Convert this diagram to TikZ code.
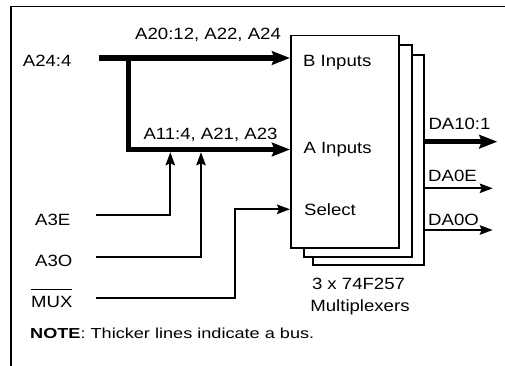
\documentclass[tikz,border=0pt]{standalone}
\usepackage{fontspec}
\setmainfont[FakeStretch=1.14]{Liberation Sans}
\newfontfamily\notefont[FakeStretch=1.25]{Liberation Sans}
\usetikzlibrary{arrows.meta}
\begin{document}
\begin{tikzpicture}[x=1pt,y=-1pt,
  lbl/.style={anchor=base west,inner sep=0pt,font=\fontsize{16.3}{19}\selectfont},
  clbl/.style={anchor=base,inner sep=0pt,font=\fontsize{16.3}{19}\selectfont},
  sig/.style={line width=1.8pt,line join=miter},
  sigarrow/.style={sig,-{Stealth[length=13pt,width=9.5pt,inset=2pt]}},
  bus/.style={line width=5.5pt,line join=miter},
  busarrow/.style={bus,-{Stealth[length=18pt,width=13.5pt,inset=2.5pt]}},
  chip/.style={draw,line width=1.8pt,fill=white,anchor=north west,inner sep=0pt}]
\useasboundingbox (0,0) rectangle (505,366);
% frame
\coordinate (fbl) at (11,366);
\coordinate (ftl) at (11,6.7);
\coordinate (ftr) at (505,6.7);
\draw[line width=1.6pt] (fbl) -- (ftl) -- (ftr);
% chips
\node[chip,minimum width=111pt,minimum height=210pt] (chip3) at (311.7,54.3) {};
\node[chip,minimum width=108.3pt,minimum height=211.7pt] (chip2) at (302.7,44.3) {};
\node[chip,minimum width=107.7pt,minimum height=212pt] (chip1) at (290,34.7) {};
% labels
\node[lbl] (la24) at (22.7,66.3) {A24:4};
\node[lbl] (lb) at (135,39.3) {A20:12, A22, A24};
\node[lbl] (la) at (143.3,140) {A11:4, A21, A23};
\node[lbl] (binp) at (303,66.7) {B Inputs};
\node[lbl] (ainp) at (303.3,153.3) {A Inputs};
\node[lbl] (sel) at (304,215) {Select};
\node[lbl] (lda10) at (428.3,129.3) {DA10:1};
\node[lbl] (lda0e) at (428,181.7) {DA0E};
\node[lbl] (lda0o) at (428,225) {DA0O};
\node[lbl] (la3e) at (35,225) {A3E};
\node[lbl] (la3o) at (35,266.5) {A3O};
\node[lbl] (lmux) at (31,307) {\makebox[0pt][l]{\rule[16.8pt]{40.5pt}{1.3pt}}MUX};
\node[clbl] (lcnt) at (358.5,289.3) {3 x 74F257};
\node[clbl] (lmpx) at (360,311.7) {Multiplexers};
\node[anchor=base west,inner sep=0pt,font=\notefont\fontsize{14.5}{17}\selectfont] (note) at (30,338.3) {\textbf{NOTE}: Thicker lines indicate a bus.};
% buses
\coordinate (bstart) at (98.7,58);
\coordinate (bjoin) at (128.3,58);
\coordinate (bcorner) at (128.3,149.5);
\draw[busarrow] (bstart) -- (bstart -| chip1.west);
\draw[busarrow] (bjoin) -- (bcorner) -- (bcorner -| chip1.west);
% control inputs
\coordinate (s3e) at (96,215);
\coordinate (c3e) at (170.3,215);
\coordinate (t3e) at (170.3,152.3);
\coordinate (s3o) at (96,256.7);
\coordinate (c3o) at (201,256.7);
\coordinate (t3o) at (201,152.3);
\coordinate (smux) at (96,298.3);
\coordinate (cmux1) at (235.3,298.3);
\coordinate (cmux2) at (235.3,209.3);
\draw[sigarrow] (s3e) -- (c3e) -- (t3e);
\draw[sigarrow] (s3o) -- (c3o) -- (t3o);
\draw[sigarrow] (smux) -- (cmux1) -- (cmux2) -- (cmux2 -| chip1.west);
% outputs
\coordinate (oda10) at (497.3,141.7);
\coordinate (oda0e) at (492.7,188.3);
\coordinate (oda0o) at (492.7,230);
\draw[busarrow] (oda10 -| chip3.east) -- (oda10);
\draw[sigarrow] (oda0e -| chip3.east) -- (oda0e);
\draw[sigarrow] (oda0o -| chip3.east) -- (oda0o);
\end{tikzpicture}
\end{document}
